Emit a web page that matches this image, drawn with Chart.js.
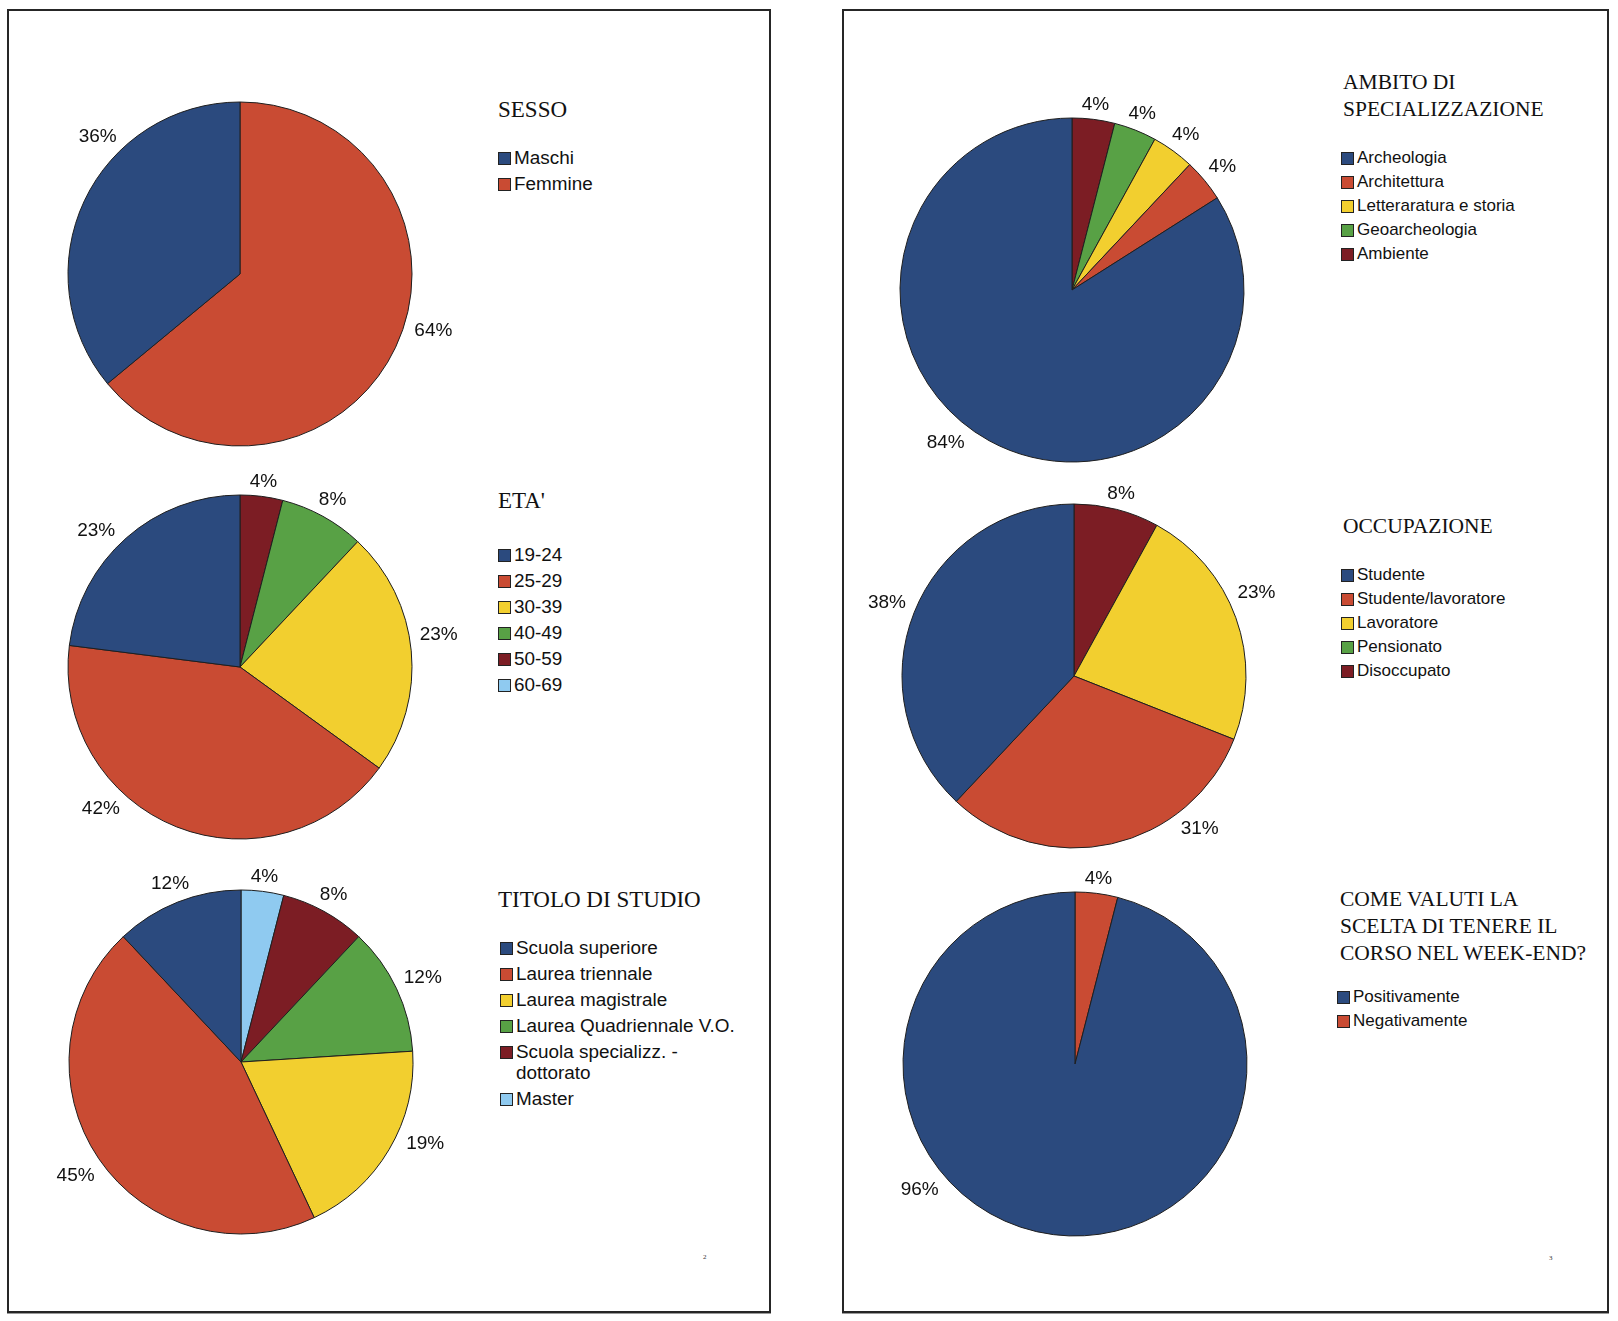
<!DOCTYPE html>
<html>
<head>
<meta charset="utf-8">
<script src="https://cdn.jsdelivr.net/npm/chart.js@4.4.1/dist/chart.umd.min.js"></script>
<style>
  html, body { margin: 0; padding: 0; background: #fff; }
  body { width: 1618px; height: 1321px; position: relative; overflow: hidden; }
  .panel { position: absolute; top: 9px; height: 1300px; border: 2px solid #262626; box-shadow: 0 1px 0 #9a9a9a; }
  canvas { position: absolute; }
  .title { position: absolute; font-family: "Liberation Serif", "Times New Roman", serif; color: #111; line-height: 27px; white-space: nowrap; }
  .legend { position: absolute; font-family: "Liberation Sans", Arial, sans-serif; color: #111; }
  .legend .item { display: flex; align-items: flex-start; }
  .legend .sw { flex: none; width: 11px; height: 11px; border: 1px solid #222; margin-right: 3px; }
  .pageno { position: absolute; font-family: "Liberation Serif", serif; font-size: 7px; color: #333; }
</style>
</head>
<body>
<div class="panel" style="left:7px; width:760px;"></div>
<div class="panel" style="left:842px; width:763px;"></div>
<div class="pageno" style="left:703px; top:1253px;">2</div>
<div class="pageno" style="left:1549px; top:1254px;">3</div>

<script>
// colours used by all the pies, in legend order
const palette = ['#2B4A7E', '#C94B33', '#F2CF2F', '#58A145', '#7C1D24', '#8FCAF0'];

// SESSO
const sessoLabels = ['Maschi', 'Femmine'];
const sessoValues = [36, 64];

// ETA'
const etaLabels = ['19-24', '25-29', '30-39', '40-49', '50-59', '60-69'];
const etaValues = [23, 42, 23, 8, 4, 0];

// TITOLO DI STUDIO
const titoloLabels = ['Scuola superiore', 'Laurea triennale', 'Laurea magistrale', 'Laurea Quadriennale V.O.', 'Scuola specializz. - dottorato', 'Master'];
const titoloValues = [12, 45, 19, 12, 8, 4];

// AMBITO DI SPECIALIZZAZIONE
const ambitoLabels = ['Archeologia', 'Architettura', 'Letteraratura e storia', 'Geoarcheologia', 'Ambiente'];
const ambitoValues = [84, 4, 4, 4, 4];

// OCCUPAZIONE
const occupazioneLabels = ['Studente', 'Studente/lavoratore', 'Lavoratore', 'Pensionato', 'Disoccupato'];
const occupazioneValues = [38, 31, 23, 0, 8];

// COME VALUTI LA SCELTA DI TENERE IL CORSO NEL WEEK-END?
const weekendLabels = ['Positivamente', 'Negativamente'];
const weekendValues = [96, 4];

// layout of each block (pie centre, title and legend placement,
// and a small turn in degrees for the % label of some slices)
const blocks = [
  { title: ['SESSO'], labels: sessoLabels, values: sessoValues, cx: 240, cy: 274,
    tx: 498, ty: 96, tsize: 23, lx: 498, ly: 144, lsize: 18.9, row: 26, turn: [19, -9] },
  { title: ["ETA'"], labels: etaLabels, values: etaValues, cx: 240, cy: 667,
    tx: 498, ty: 487, tsize: 23, lx: 498, ly: 541, lsize: 18.9, row: 26, turn: [-5, 23, -4, 0, 0, 0] },
  { title: ['TITOLO DI STUDIO'], labels: titoloLabels, values: titoloValues, cx: 241, cy: 1062,
    tx: 498, ty: 886, tsize: 23, lx: 500, ly: 934, lsize: 18.9, row: 26, wrap: 230, turn: [0, 0, -7, 0, 0, 0] },
  { title: ['AMBITO DI', 'SPECIALIZZAZIONE'], labels: ambitoLabels, values: ambitoValues, cx: 1072, cy: 290,
    tx: 1343, ty: 69, tsize: 21.5, lx: 1341, ly: 145, lsize: 17, row: 24, turn: [11, 0, 0, 0, 0] },
  { title: ['OCCUPAZIONE'], labels: occupazioneLabels, values: occupazioneValues, cx: 1074, cy: 676,
    tx: 1343, ty: 513, tsize: 21.5, lx: 1341, ly: 562, lsize: 17, row: 24, turn: [0, -27, -5, 0, 0] },
  { title: ['COME VALUTI LA', 'SCELTA DI TENERE IL', 'CORSO NEL WEEK-END?'], labels: weekendLabels, values: weekendValues, cx: 1075, cy: 1064,
    tx: 1340, ty: 886, tsize: 21.5, lx: 1337, ly: 984, lsize: 17, row: 24, turn: [44, 0] }
];

const RADIUS = 172;
const HALF = 240;

// percentage labels outside each slice
const outsideLabels = {
  id: 'outsideLabels',
  afterDatasetsDraw(chart, args, opts) {
    const ctx = chart.ctx;
    const meta = chart.getDatasetMeta(0);
    const values = chart.data.datasets[0].data;
    const turn = opts.turn || [];
    ctx.save();
    ctx.font = '19px "Liberation Sans", Arial, sans-serif';
    ctx.fillStyle = '#111';
    ctx.textAlign = 'center';
    ctx.textBaseline = 'middle';
    meta.data.forEach((arc, i) => {
      const v = values[i];
      if (!v) return;
      const p = arc.getProps(['x', 'y', 'startAngle', 'endAngle', 'outerRadius'], true);
      const mid = (p.startAngle + p.endAngle) / 2 + (turn[i] || 0) * Math.PI / 180;
      const text = v + '%';
      const hw = ctx.measureText(text).width / 2;
      const d = p.outerRadius + 10 + hw * Math.abs(Math.cos(mid)) + 4 * Math.abs(Math.sin(mid));
      ctx.fillText(text, p.x + Math.cos(mid) * d, p.y + Math.sin(mid) * d + 1);
    });
    ctx.restore();
  }
};

blocks.forEach(b => {
  const colors = palette.slice(0, b.labels.length);

  const canvas = document.createElement('canvas');
  canvas.width = HALF * 2;
  canvas.height = HALF * 2;
  canvas.style.left = (b.cx - HALF) + 'px';
  canvas.style.top = (b.cy - HALF) + 'px';
  document.body.appendChild(canvas);

  // slices run counter-clockwise from the top in legend order,
  // so feed Chart.js (which goes clockwise) the reversed lists
  new Chart(canvas.getContext('2d'), {
    type: 'pie',
    data: {
      labels: b.labels.slice().reverse(),
      datasets: [{
        data: b.values.slice().reverse(),
        backgroundColor: colors.slice().reverse(),
        borderColor: '#1e1e1e',
        borderWidth: 1,
        radius: RADIUS
      }]
    },
    options: {
      responsive: false,
      animation: false,
      layout: { padding: 0 },
      plugins: {
        legend: { display: false },
        tooltip: { enabled: false },
        outsideLabels: { turn: (b.turn || []).slice().reverse() }
      }
    },
    plugins: [outsideLabels]
  });

  const title = document.createElement('div');
  title.className = 'title';
  title.style.left = b.tx + 'px';
  title.style.top = b.ty + 'px';
  title.style.fontSize = b.tsize + 'px';
  title.innerHTML = b.title.join('<br>');
  document.body.appendChild(title);

  const legend = document.createElement('div');
  legend.className = 'legend';
  legend.style.left = b.lx + 'px';
  legend.style.top = b.ly + 'px';
  legend.style.fontSize = b.lsize + 'px';
  b.labels.forEach((lab, i) => {
    const item = document.createElement('div');
    item.className = 'item';
    const lh = b.row - 5;
    item.style.padding = '2.5px 0';
    item.style.lineHeight = lh + 'px';
    const sw = document.createElement('span');
    sw.className = 'sw';
    sw.style.background = colors[i];
    sw.style.marginTop = ((lh - 13) / 2 + 1) + 'px';
    const txt = document.createElement('span');
    txt.textContent = lab;
    if (b.wrap) txt.style.maxWidth = b.wrap + 'px';
    item.appendChild(sw);
    item.appendChild(txt);
    legend.appendChild(item);
  });
  document.body.appendChild(legend);
});
</script>
</body>
</html>
